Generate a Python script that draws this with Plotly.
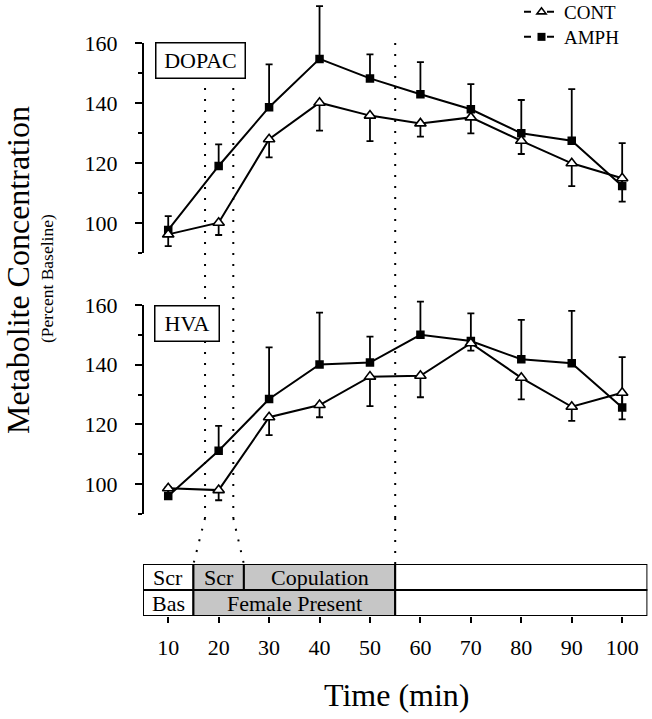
import plotly.graph_objects as go

# ---------------- data ----------------
time_min = [10, 20, 30, 40, 50, 60, 70, 80, 90, 100]

dopac_cont = [96.2, 100.1, 127.9, 140.1, 135.8, 133.2, 135.2, 127.4, 119.9, 114.9]
dopac_cont_err = [3.9, 4.1, 6.0, 9.3, 8.5, 4.4, 5.3, 4.4, 7.6, 7.8]
dopac_amph = [97.7, 119.0, 138.6, 154.7, 148.2, 142.9, 137.9, 129.9, 127.4, 112.3]
dopac_amph_err = [4.6, 7.2, 14.3, 17.6, 8.0, 10.7, 8.4, 11.1, 17.2, 14.3]

hva_cont = [98.6, 98.0, 122.4, 126.5, 136.0, 136.3, 147.2, 135.6, 125.9, 130.6]
hva_cont_err = [1.5, 3.4, 6.0, 4.1, 9.9, 7.2, 2.5, 7.2, 4.7, 8.9]
hva_amph = [96.0, 111.2, 128.5, 140.1, 140.7, 150.0, 147.9, 141.8, 140.5, 125.7]
hva_amph_err = [3.0, 8.3, 17.3, 17.3, 8.7, 11.1, 9.3, 13.2, 17.5, 16.8]

y_tick_vals = [100, 120, 140, 160]
y_minor_vals = [90, 110, 130, 150]
x_tick_vals = [10, 20, 30, 40, 50, 60, 70, 80, 90, 100]

# behaviour bar segments (start, end, label, shaded)
top_row_starts = [5, 15, 25, 55]
top_row_ends = [15, 25, 55, 105]
top_row_labels = ["Scr", "Scr", "Copulation", ""]
top_row_shaded = [False, True, True, False]
bot_row_starts = [5, 15, 55]
bot_row_ends = [15, 55, 105]
bot_row_labels = ["Bas", "Female Present", ""]
bot_row_shaded = [False, True, False]

# dotted event lines: time in panels -> time on the bar
event_panel_x = [17.3, 22.9, 55.0]
event_bar_x = [15, 25, 55]
event_top_value = [145, 145, 160]  # DOPAC value where the dotted line starts

# ---------------- layout helpers ----------------
W, H = 652, 719
FONT = "Liberation Serif, Times New Roman, serif"


def px(p):
    return p / W


def py(p):
    return 1 - p / H


x_dom = [px(143), px(647.4)]
x_range = [5, 105]
y1_dom = [py(253), py(4)]
y1_range = [90, 173]
y2_dom = [py(514), py(296)]
y2_range = [90, 163]
y3_dom = [py(616), py(564)]

fig = go.Figure()

BLACK = "black"
GRAY = "#c6c6c6"


def add_series(x, y, err, xa, ya, kind):
    if kind == "amph":
        ey = dict(type="data", symmetric=False, array=err,
                  arrayminus=[0] * len(err), color=BLACK, thickness=1.8, width=3.5)
        mk = dict(symbol="square", size=8.5, color=BLACK, line=dict(color=BLACK, width=0))
    else:
        ey = dict(type="data", symmetric=False, array=[0] * len(err),
                  arrayminus=err, color=BLACK, thickness=1.8, width=3.5)
        mk = dict(symbol="triangle-up", size=10, color="white", line=dict(color=BLACK, width=1.6))
    fig.add_trace(go.Scatter(x=x, y=y, mode="lines+markers", xaxis=xa, yaxis=ya,
                             line=dict(color=BLACK, width=2), marker=mk,
                             error_y=ey, showlegend=False, hoverinfo="skip"))


add_series(time_min, dopac_amph, dopac_amph_err, "x", "y", "amph")
add_series(time_min, dopac_cont, dopac_cont_err, "x", "y", "cont")
add_series(time_min, hva_amph, hva_amph_err, "x2", "y2", "amph")
add_series(time_min, hva_cont, hva_cont_err, "x2", "y2", "cont")

# legend entries (one legend each so the rows can be placed exactly)
fig.add_trace(go.Scatter(x=[None], y=[None], mode="lines+markers", name="CONT",
                         legend="legend",
                         line=dict(color=BLACK, width=2, dash="7px,16px"),
                         marker=dict(symbol="triangle-up", size=8, color="white",
                                     line=dict(color=BLACK, width=1.6))))
fig.add_trace(go.Scatter(x=[None], y=[None], mode="lines+markers", name="AMPH",
                         legend="legend2",
                         line=dict(color=BLACK, width=2, dash="7px,16px"),
                         marker=dict(symbol="square", size=8, color=BLACK)))

# behaviour bar
for starts, ends, shaded, row in [(top_row_starts, top_row_ends, top_row_shaded, 1),
                                  (bot_row_starts, bot_row_ends, bot_row_shaded, 0)]:
    fig.add_trace(go.Bar(
        y=[row] * len(starts), x=[e - s for s, e in zip(starts, ends)], base=starts,
        orientation="h", width=1, xaxis="x3", yaxis="y3",
        marker=dict(color=[GRAY if s else "white" for s in shaded],
                    line=dict(color=BLACK, width=2)),
        showlegend=False, hoverinfo="skip"))

annotations = []
for starts, ends, labels, row in [(top_row_starts, top_row_ends, top_row_labels, 1),
                                  (bot_row_starts, bot_row_ends, bot_row_labels, 0)]:
    for s, e, lab in zip(starts, ends, labels):
        if lab:
            annotations.append(dict(x=(s + e) / 2, y=row, xref="x3", yref="y3",
                                    xanchor="center", yanchor="middle",
                                    text=lab, showarrow=False,
                                    font=dict(family=FONT, size=22, color=BLACK)))

# panel labels
annotations.append(dict(x=px(200.5), y=py(60.5), xref="paper", yref="paper", text="DOPAC",
                        xanchor="center", yanchor="middle",
                        showarrow=False, font=dict(family=FONT, size=22, color=BLACK),
                        bordercolor=BLACK, borderwidth=1.5, borderpad=3, bgcolor="white",
                        width=82, height=28))
annotations.append(dict(x=px(187), y=py(323.5), xref="paper", yref="paper", text="HVA",
                        xanchor="center", yanchor="middle",
                        showarrow=False, font=dict(family=FONT, size=22, color=BLACK),
                        bordercolor=BLACK, borderwidth=1.5, borderpad=3, bgcolor="white",
                        width=57, height=28))

# axis titles
annotations.append(dict(x=px(18), y=py(270), xref="paper", yref="paper",
                        xanchor="center", yanchor="middle",
                        text="Metabolite Concentration", textangle=-90, showarrow=False,
                        font=dict(family=FONT, size=32, color=BLACK)))
annotations.append(dict(x=px(47), y=py(279), xref="paper", yref="paper",
                        xanchor="center", yanchor="middle",
                        text="(Percent Baseline)", textangle=-90, showarrow=False,
                        font=dict(family=FONT, size=17.5, color=BLACK)))
annotations.append(dict(x=px(397), y=py(695), xref="paper", yref="paper",
                        xanchor="center", yanchor="middle",
                        text="Time (min)", showarrow=False,
                        font=dict(family=FONT, size=32, color=BLACK)))

# shapes: axis lines and dotted event lines
shapes = [
    dict(type="line", xref="x domain", yref="y", x0=0, x1=0, y0=90, y1=160,
         line=dict(color=BLACK, width=2)),
    dict(type="line", xref="x2 domain", yref="y2", x0=0, x1=0, y0=90, y1=160,
         line=dict(color=BLACK, width=2)),
]
y1_px_per = (253 - 4) / (y1_range[1] - y1_range[0])
bend_y = py(518)
for xp, xb, vt in zip(event_panel_x, event_bar_x, event_top_value):
    top_y = py(253 - (vt - 90) * y1_px_per)
    shapes.append(dict(type="line", xref="x", yref="paper", x0=xp, x1=xp, y0=top_y, y1=bend_y,
                       line=dict(color=BLACK, width=2, dash="2px,9px")))
    shapes.append(dict(type="line", xref="x", yref="paper", x0=xp, x1=xb, y0=bend_y,
                       y1=y3_dom[1], line=dict(color=BLACK, width=2, dash="2px,9px")))

tickfont = dict(family=FONT, size=22, color=BLACK)
yaxis_common = dict(
    tickmode="array", tickvals=y_tick_vals, ticks="outside", ticklen=7, tickwidth=2,
    tickcolor=BLACK, showline=False, showgrid=False, zeroline=False, tickfont=tickfont,
    ticklabelstandoff=13,
    minor=dict(tickmode="array", tickvals=y_minor_vals, ticks="outside", ticklen=4,
               tickwidth=2, tickcolor=BLACK, showgrid=False),
)

legend_common = dict(xanchor="left", yanchor="top",
                     font=dict(family=FONT, size=19, color=BLACK), itemwidth=35,
                     bgcolor="rgba(0,0,0,0)")

fig.update_layout(
    width=W, height=H, margin=dict(l=0, r=0, t=0, b=0, autoexpand=False),
    paper_bgcolor="white", plot_bgcolor="rgba(0,0,0,0)",
    font=dict(family=FONT, color=BLACK),
    barmode="overlay",
    xaxis=dict(domain=x_dom, range=x_range, visible=False, anchor="y"),
    yaxis=dict(domain=y1_dom, range=y1_range, anchor="x", **yaxis_common),
    xaxis2=dict(domain=x_dom, range=x_range, visible=False, anchor="y2"),
    yaxis2=dict(domain=y2_dom, range=y2_range, anchor="x2", **yaxis_common),
    xaxis3=dict(domain=x_dom, range=x_range, anchor="y3", tickmode="array",
                tickvals=x_tick_vals, ticks="outside", ticklen=6, tickwidth=2,
                tickcolor=BLACK, showline=False, showgrid=False, zeroline=False,
                tickfont=tickfont, ticklabelstandoff=6),
    yaxis3=dict(domain=y3_dom, range=[-0.5, 1.5], visible=False, anchor="x3"),
    legend=dict(x=px(519), y=py(-7), **legend_common),
    legend2=dict(x=px(519), y=py(18), **legend_common),
    annotations=annotations,
    shapes=shapes,
    showlegend=True,
)

fig.write_html("out.html", post_script="document.body.style.margin='0';",
               config={"displayModeBar": False})
